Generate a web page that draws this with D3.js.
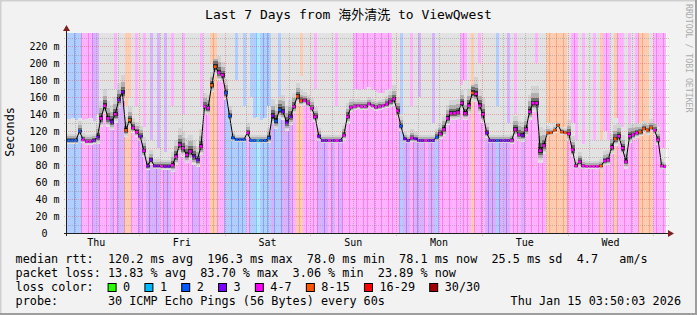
<!DOCTYPE html>
<html>
<head>
<meta charset="utf-8">
<script src="https://cdn.jsdelivr.net/npm/d3@7"></script>
<style>
html, body { margin: 0; padding: 0; background: #fff; }
svg { display: block; }
text { font-family: "DejaVu Sans Mono", "Noto Sans CJK SC", monospace; white-space: pre; }
</style>
</head>
<body>
<div id="chart"></div>
<script>
// hourly values, Thu Jan 8 03:50 -> Thu Jan 15 03:50 (168 hours)
const medianMs = [
  109,109,109,120,110,108,108,109,113,135,150,135,131,140,157,166,121,133,124,119,114,97,79,86,79,79,78.5,78.5,
  78.5,80,90,104,100,92,96,90,86,102,149,147,174,196,189,186,165,138,112,110,110,110,118,109,109,109,109,109,
  112,138,132,145,143,130,137,149,161,156,156,153,147,137,114,109,109,109,109,109,109,115,137,148,149,150,149,149,
  152,150,148,149,150,152,155,158,144,126,111,109,112,111,109,109,109,109,109,113,117,122,135,141,141,142,153,141,
  150,165,164,150,140,118,109,109,109,109,109,109,109,122,116,115,122,143,153,153,97,103,118,118,121,127,119,118,
  117,98,79,84,79,78.5,78.5,78.5,78.5,79,85,86,101,111,114,100,84,114,116,118,119,123,121,124,121,110,79,78.1
];

// index into lossLabels / lossColors
const lossLevel = [
  2,2,2,2,4,4,4,3,3,4,4,4,3,4,3,3,5,5,4,4,3,4,3,3,3,3,4,3,
  3,4,4,4,4,4,4,3,3,4,4,4,5,5,4,4,2,2,2,2,2,2,4,2,2,1,2,2,
  2,3,2,2,3,3,3,4,5,5,4,4,4,4,3,3,3,4,3,4,3,4,4,4,4,4,4,4,
  4,4,4,4,4,4,4,4,4,2,3,3,4,3,3,3,4,3,3,2,4,4,4,4,4,4,4,4,
  4,5,4,4,4,3,3,3,2,3,3,3,4,4,4,3,4,4,4,4,4,4,5,5,5,5,5,5,
  4,4,4,4,4,4,4,4,4,5,4,4,4,5,4,4,4,4,4,4,5,5,5,5,4,4,4,4
];

// highest ping of the hour (240 = off the top of the graph)
const smokeTopMs = [
  134,136,133,135,133,134,135,132,140,240,240,240,240,170,240,240,150,160,240,150,240,125,240,110,240,100,240,95,
  240,150,240,240,140,240,240,240,240,150,240,240,200,205,240,240,240,240,240,180,240,150,240,160,135,137,133,135,
  150,240,240,160,240,240,240,240,240,185,240,240,240,170,240,240,240,240,240,150,240,240,240,240,170,168,170,168,
  172,168,166,165,165,168,170,240,240,140,240,240,150,240,160,240,240,240,130,240,240,240,240,240,240,240,175,180,
  240,175,240,200,240,240,240,240,150,240,240,130,240,140,240,240,240,240,240,200,240,240,130,130,130,130,125,125,
  240,130,110,240,105,240,240,110,240,110,120,110,240,135,130,125,240,128,240,130,130,132,130,240,130,125,100,100
];

// spread of the inner pings around the median
const smokeSpreadMs = [
  4,4,4,6,4,4,4,4,8,10,10,10,10,10,10,10,8,8,6,6,6,8,5,6,4,4,4,4,
  4,8,10,10,10,10,10,10,8,10,8,8,8,10,10,8,8,6,4,3,3,3,6,3,3,3,3,3,
  6,10,10,10,10,10,10,8,8,6,5,5,6,6,5,3,3,3,3,3,3,6,8,5,4,4,4,4,
  4,4,4,4,4,5,6,8,8,6,4,3,5,4,3,3,3,3,3,5,6,8,8,8,8,8,8,8,
  10,10,10,10,10,6,3,3,3,3,3,3,4,8,8,8,8,10,10,10,14,10,4,3,3,3,3,3,
  8,8,4,6,4,3,3,3,3,4,6,6,8,8,8,8,8,8,6,6,5,5,5,5,6,6,4,3
];

const lossLabels = ['0', '1', '2', '3', '4-7', '8-15', '16-29', '30/30'];
const lossColors = ['#26ff00', '#00b8ff', '#0059ff', '#7e00ff', '#ff00ff', '#ff5500', '#ff0000', '#a00000'];

const yTickValues = [0, 20, 40, 60, 80, 100, 120, 140, 160, 180, 200, 220];

const rttStats = [120.2, 196.3, 78.0, 78.1, 25.5]; // avg max min now sd
const rttAmps = 4.7;
const lossStats = [13.83, 83.70, 3.06, 23.89];    // avg max min now
const probeText = '30 ICMP Echo Pings (56 Bytes) every 60s';
const endTime = new Date(Date.UTC(2026, 0, 15, 3, 50, 3));
const startTime = new Date(+endTime - 7 * 864e5);

// Setting dimensions
const W = 697, H = 315;
const plot = {left: 67, right: 667, top: 33, bottom: 233};

const svg = d3.select('#chart')
    .append('svg')
    .attr('width', W)
    .attr('height', H);

// Background and frame
svg.append('rect').attr('width', W).attr('height', H).attr('fill', '#f2f2f2');
svg.append('path').attr('d', `M0.5,${H} V0.5 H${W}`).attr('fill', 'none').attr('stroke', '#cfcfcf').attr('stroke-width', 2);
svg.append('path').attr('d', `M${W - 1},0 V${H - 1} H0`).attr('fill', 'none').attr('stroke', '#9e9e9e').attr('stroke-width', 2);

// Scales
const x = d3.scaleUtc().domain([startTime, endTime]).range([plot.left, plot.right]);
const y = d3.scaleLinear().domain([0, 235.7]).range([plot.bottom, plot.top]);

const slots = medianMs.map((m, i) => ({
    t0: d3.utcHour.offset(startTime, i),
    t1: d3.utcHour.offset(startTime, i + 1),
    median: m,
    level: lossLevel[i],
    top: smokeTopMs[i],
    spread: smokeSpreadMs[i]
}));

svg.append('defs').append('clipPath').attr('id', 'plotclip')
    .append('rect')
    .attr('x', plot.left).attr('y', plot.top)
    .attr('width', plot.right - plot.left - 1).attr('height', plot.bottom - plot.top);

svg.append('rect')
    .attr('x', plot.left).attr('y', plot.top)
    .attr('width', plot.right - plot.left).attr('height', plot.bottom - plot.top)
    .attr('fill', '#ffffff');

const g = svg.append('g').attr('clip-path', 'url(#plotclip)');

// Loss background bars
g.append('g').attr('shape-rendering', 'crispEdges')
    .selectAll('rect')
    .data(slots)
    .join('rect')
    .attr('x', d => x(d.t0))
    .attr('width', d => x(d.t1) - x(d.t0) + 0.6)
    .attr('y', plot.top)
    .attr('height', plot.bottom - plot.top)
    .attr('fill', d => lossColors[d.level])
    .attr('fill-opacity', 0.3);

// Smoke: outer band from lowest to highest ping, then tighter darker bands
const bands = [
    {down: 1.0, up: null, color: '#e2e2e2'},
    {down: 0.8, up: 2.0, color: '#d3d3d3'},
    {down: 0.6, up: 1.2, color: '#b0b0b0'},
    {down: 0.4, up: 0.65, color: '#6e6e6e'},
    {down: 0.2, up: 0.3, color: '#2a2a2a'}
];

bands.forEach(b => {
    g.append('g').attr('shape-rendering', 'crispEdges')
        .selectAll('rect')
        .data(slots)
        .join('rect')
        .attr('x', d => x(d.t0))
        .attr('width', d => x(d.t1) - x(d.t0) + 0.6)
        .attr('y', d => {
            const hi = b.up === null ? d.top : Math.min(d.top, d.median + d.spread * b.up);
            return y(hi);
        })
        .attr('height', d => {
            const hi = b.up === null ? d.top : Math.min(d.top, d.median + d.spread * b.up);
            return Math.max(0, y(d.median - d.spread * b.down) - y(hi));
        })
        .attr('fill', b.color);
});

// Grid
const majorGrid = 'rgba(222,79,79,0.42)', minorGrid = 'rgba(143,143,143,0.5)';
const grid = svg.append('g').attr('stroke-dasharray', '1,1').attr('shape-rendering', 'crispEdges');
const yMinor = d3.range(10, 235, 10);
grid.selectAll('.hgrid')
    .data(yMinor)
    .join('line')
    .attr('x1', plot.left - 3).attr('x2', plot.right + 2)
    .attr('y1', d => Math.round(y(d)) + 0.5).attr('y2', d => Math.round(y(d)) + 0.5)
    .attr('stroke', d => d % 20 === 0 ? majorGrid : minorGrid);

const sixHours = d3.utcHour.every(6).range(startTime, endTime);
grid.selectAll('.vgrid')
    .data(sixHours)
    .join('line')
    .attr('x1', d => Math.round(x(d)) + 0.5).attr('x2', d => Math.round(x(d)) + 0.5)
    .attr('y1', plot.top).attr('y2', d => d.getUTCHours() === 0 ? plot.bottom + 3 : plot.bottom + 2)
    .attr('stroke', d => d.getUTCHours() === 0 ? majorGrid : minorGrid);

// Median line
const medLine = d3.line()
    .x(d => (x(d.t0) + x(d.t1)) / 2)
    .y(d => y(d.median));

g.append('path')
    .datum(slots)
    .attr('d', medLine)
    .attr('fill', 'none')
    .attr('stroke', '#000')
    .attr('stroke-width', 1);

g.append('g')
    .selectAll('line')
    .data(slots)
    .join('line')
    .attr('x1', d => x(d.t0) + 0.4).attr('x2', d => x(d.t1) - 0.4)
    .attr('y1', d => y(d.median)).attr('y2', d => y(d.median))
    .attr('stroke', d => lossColors[d.level])
    .attr('stroke-width', 2.6);

// Axes
const axisColor = '#1f1f1f', arrowColor = '#801f1f';
svg.append('line')
    .attr('x1', plot.left - 3).attr('x2', plot.right + 3)
    .attr('y1', plot.bottom + 0.5).attr('y2', plot.bottom + 0.5)
    .attr('stroke', axisColor);
svg.append('line')
    .attr('x1', plot.left - 0.5).attr('x2', plot.left - 0.5)
    .attr('y1', plot.bottom + 3).attr('y2', plot.top - 4)
    .attr('stroke', axisColor);
svg.append('path')
    .attr('d', `M${plot.right + 1},${plot.bottom - 3} L${plot.right + 7},${plot.bottom + 0.5} L${plot.right + 1},${plot.bottom + 4} Z`)
    .attr('fill', arrowColor);
svg.append('path')
    .attr('d', `M${plot.left - 4},${plot.top - 2} L${plot.left - 0.5},${plot.top - 8} L${plot.left + 3},${plot.top - 2} Z`)
    .attr('fill', arrowColor);

// Y labels
svg.append('g')
    .selectAll('text')
    .data(yTickValues)
    .join('text')
    .attr('x', d => d === 0 ? 59.5 - 12 : 59.5)
    .attr('y', d => y(d) + 3.5)
    .attr('text-anchor', 'end')
    .attr('font-size', 10)
    .text(d => d === 0 ? '0' : `${d} m`);

// Day labels at noon
const noons = d3.utcDay.range(d3.utcDay.floor(startTime), endTime)
    .map(d => d3.utcHour.offset(d, 12))
    .filter(d => d >= startTime && d <= endTime);
svg.append('g')
    .selectAll('text')
    .data(noons)
    .join('text')
    .attr('x', d => x(d))
    .attr('y', 246)
    .attr('text-anchor', 'middle')
    .attr('font-size', 10)
    .text(d3.utcFormat('%a'));

// Title
svg.append('text')
    .attr('x', W / 2)
    .attr('y', 19)
    .attr('text-anchor', 'middle')
    .attr('font-size', 13)
    .text('Last 7 Days from 海外清洗 to ViewQwest');

// Vertical labels
svg.append('text')
    .attr('transform', 'translate(14,132) rotate(-90)')
    .attr('text-anchor', 'middle')
    .attr('font-size', 11.8)
    .text('Seconds');

svg.append('text')
    .attr('transform', 'translate(686,4) rotate(90)')
    .attr('font-size', 8.2)
    .attr('fill', '#ababab')
    .text('RRDTOOL / TOBI OETIKER');

// Legend
const f1 = d3.format('.1f'), f2 = d3.format('.2f');
const legendX = 15.6, legendSize = 11.8;
const legendLines = [
    `median rtt:  ${f1(rttStats[0])} ms avg  ${f1(rttStats[1])} ms max  ${f1(rttStats[2])} ms min  ${f1(rttStats[3])} ms now  ${f1(rttStats[4])} ms sd  ${f1(rttAmps)}   am/s`,
    `packet loss: ${f2(lossStats[0])} % avg  ${f2(lossStats[1])} % max  ${f2(lossStats[2])} % min  ${f2(lossStats[3])} % now`,
    'loss color:',
    `probe:       ${probeText}`
];
svg.append('g')
    .selectAll('text')
    .data(legendLines)
    .join('text')
    .attr('x', legendX)
    .attr('y', (d, i) => 263 + i * 14)
    .attr('font-size', legendSize)
    .text(d => d);

svg.append('text')
    .attr('x', 681)
    .attr('y', 305)
    .attr('text-anchor', 'end')
    .attr('font-size', legendSize)
    .text(d3.utcFormat('%a %b %d %H:%M:%S %Y')(endTime));

// Loss colour swatches
let lx = 107.6;
const lossG = svg.append('g');
lossLabels.forEach((lab, i) => {
    lossG.append('rect')
        .attr('x', lx + 0.5).attr('y', 283.5)
        .attr('width', 8).attr('height', 8)
        .attr('fill', lossColors[i])
        .attr('stroke', '#000');
    const t = lossG.append('text')
        .attr('x', lx + 15.5)
        .attr('y', 291)
        .attr('font-size', legendSize)
        .text(lab);
    lx = lx + 15.5 + t.node().getComputedTextLength() + 14.2;
});
</script>
</body>
</html>
